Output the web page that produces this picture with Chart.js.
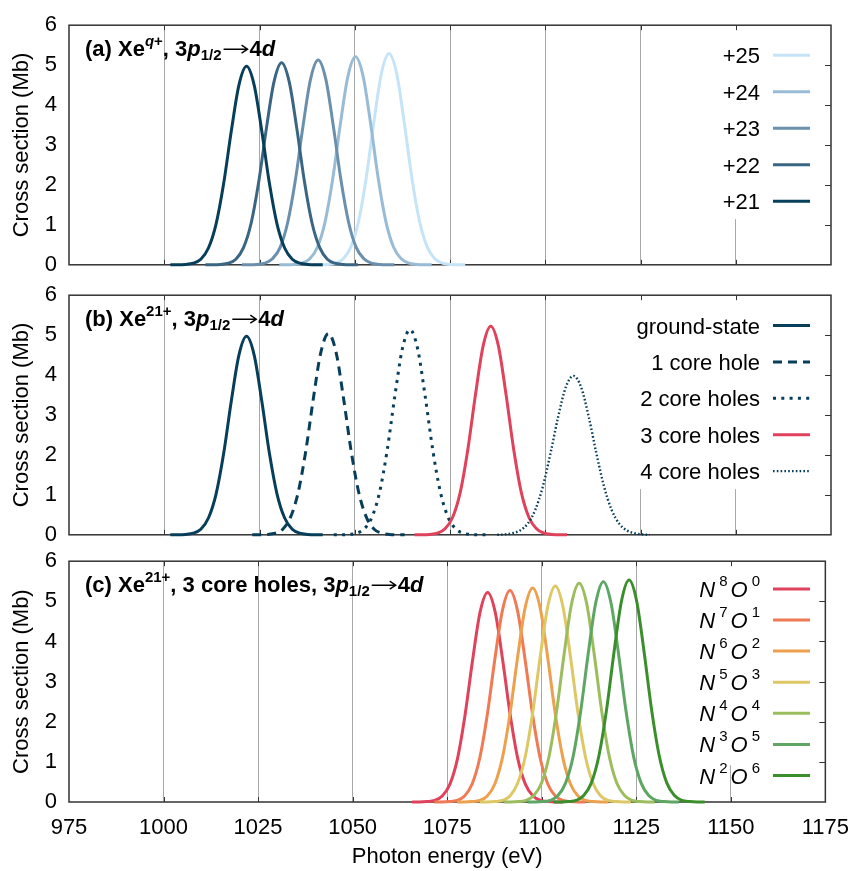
<!DOCTYPE html>
<html>
<head>
<meta charset="utf-8">
<script src="https://cdn.jsdelivr.net/npm/chart.js@4.4.1/dist/chart.umd.min.js"></script>
<style>
  html, body { margin: 0; padding: 0; background: #fff; }
  #wrap { position: relative; width: 862px; height: 871px; }
  canvas { position: absolute; left: 0; }
</style>
</head>
<body>
<div id="wrap">
  <canvas id="pa" width="862" height="290" style="top:0"></canvas>
  <canvas id="pb" width="862" height="290" style="top:270px"></canvas>
  <canvas id="pc" width="862" height="335" style="top:536px"></canvas>
</div>
<script>
// ---- DATA (Mb), every curve sampled every 2 eV from its own start energy ----
const STEP = 2;

// (a) Xe^q+ charge states, legend order top -> bottom
const chargeLabels = ['+25', '+24', '+23', '+22', '+21'];
const chargeStart = [1039.0, 1030.2, 1020.4, 1010.8, 1001.6];
const q25 = [0, 0, 0.01, 0.04, 0.15, 0.45, 1.09, 2.17, 3.56, 4.79, 5.29, 4.79, 3.56, 2.17, 1.09, 0.45, 0.15, 0.04, 0.01, 0, 0];
const q24 = [0, 0, 0.01, 0.04, 0.15, 0.44, 1.07, 2.14, 3.51, 4.72, 5.21, 4.72, 3.51, 2.14, 1.07, 0.44, 0.15, 0.04, 0.01, 0, 0];
const q23 = [0, 0, 0.01, 0.04, 0.15, 0.43, 1.06, 2.11, 3.46, 4.65, 5.13, 4.65, 3.46, 2.11, 1.06, 0.43, 0.15, 0.04, 0.01, 0, 0];
const q22 = [0, 0, 0.01, 0.04, 0.14, 0.43, 1.04, 2.08, 3.41, 4.58, 5.06, 4.58, 3.41, 2.08, 1.04, 0.43, 0.14, 0.04, 0.01, 0, 0];
const q21 = [0, 0, 0.01, 0.04, 0.14, 0.42, 1.02, 2.04, 3.35, 4.50, 4.97, 4.50, 3.35, 2.04, 1.02, 0.42, 0.14, 0.04, 0.01, 0, 0];

// (b) Xe21+ with core holes
const holeLabels = ['ground-state', '1 core hole', '2 core holes', '3 core holes', '4 core holes'];
const holeStart = [1001.6, 1023.1, 1044.5, 1065.7, 1087.4];
const hole0 = [0, 0, 0.01, 0.04, 0.14, 0.42, 1.02, 2.04, 3.35, 4.50, 4.97, 4.50, 3.35, 2.04, 1.02, 0.42, 0.14, 0.04, 0.01, 0, 0];
const hole1 = [0, 0, 0.01, 0.04, 0.14, 0.43, 1.04, 2.07, 3.39, 4.57, 5.04, 4.57, 3.39, 2.07, 1.04, 0.43, 0.14, 0.04, 0.01, 0, 0];
const hole2 = [0, 0, 0.01, 0.04, 0.15, 0.44, 1.06, 2.11, 3.46, 4.66, 5.14, 4.66, 3.46, 2.11, 1.06, 0.44, 0.15, 0.04, 0.01, 0, 0];
const hole3 = [0, 0, 0.01, 0.04, 0.15, 0.44, 1.07, 2.15, 3.52, 4.73, 5.22, 4.73, 3.52, 2.15, 1.07, 0.44, 0.15, 0.04, 0.01, 0, 0];
const hole4 = [0, 0.01, 0.04, 0.11, 0.28, 0.63, 1.22, 2.05, 2.96, 3.70, 3.98, 3.70, 2.96, 2.05, 1.22, 0.63, 0.28, 0.11, 0.04, 0.01, 0];

// (c) Xe21+, 3 core holes, N/O shell configurations
const confN = ['8', '7', '6', '5', '4', '3', '2'];
const confO = ['0', '1', '2', '3', '4', '5', '6'];
const confStart = [1065.7, 1071.6, 1077.6, 1083.6, 1089.9, 1096.3, 1103.1];
const n8o0 = [0, 0, 0.01, 0.04, 0.15, 0.44, 1.07, 2.15, 3.52, 4.73, 5.22, 4.73, 3.52, 2.15, 1.07, 0.44, 0.15, 0.04, 0.01, 0, 0];
const n7o1 = [0, 0, 0.01, 0.04, 0.15, 0.45, 1.09, 2.17, 3.55, 4.77, 5.27, 4.77, 3.55, 2.17, 1.09, 0.45, 0.15, 0.04, 0.01, 0, 0];
const n6o2 = [0, 0, 0.01, 0.04, 0.15, 0.45, 1.10, 2.19, 3.59, 4.83, 5.33, 4.83, 3.59, 2.19, 1.10, 0.45, 0.15, 0.04, 0.01, 0, 0];
const n5o3 = [0, 0, 0.01, 0.04, 0.15, 0.46, 1.11, 2.21, 3.62, 4.87, 5.38, 4.87, 3.62, 2.21, 1.11, 0.46, 0.15, 0.04, 0.01, 0, 0];
const n4o4 = [0, 0, 0.01, 0.04, 0.16, 0.46, 1.12, 2.24, 3.67, 4.94, 5.45, 4.94, 3.67, 2.24, 1.12, 0.46, 0.16, 0.04, 0.01, 0, 0];
const n3o5 = [0, 0, 0.01, 0.04, 0.16, 0.47, 1.13, 2.26, 3.70, 4.97, 5.49, 4.97, 3.70, 2.26, 1.13, 0.47, 0.16, 0.04, 0.01, 0, 0];
const n2o6 = [0, 0, 0.01, 0.04, 0.16, 0.47, 1.14, 2.27, 3.72, 5.01, 5.53, 5.01, 3.72, 2.27, 1.14, 0.47, 0.16, 0.04, 0.01, 0, 0];

const xTicks = [975, 1000, 1025, 1050, 1075, 1100, 1125, 1150, 1175];

// ---- styles ----
const FONT = '"Liberation Sans", Arial, Helvetica, sans-serif';
const FS = 22;
const NAVY = '#073e5a';
const chargeColors = ['#c5e4f8', '#98bbd6', '#6b90ad', '#3b6683', NAVY];
const holeColors = [NAVY, NAVY, NAVY, '#e0425c', NAVY];
const holeDash = [[], [9, 6], [3, 5.3], [], [1.6, 2.2]];
const holeWidth = [3, 3, 3, 3, 2.4];
const confColors = ['#e0425c', '#ef7a54', '#eda04e', '#dec866', '#9cbd5e', '#5ea663', '#3a8f2c'];

function toPoints(start, ys) {
  return ys.map((y, i) => ({ x: start + i * STEP, y: y }));
}

function fontOf(s) {
  return (s.i ? 'italic ' : '') + (s.b ? 'bold ' : '') + (s.s || FS) + 'px ' + FONT;
}

function segWidth(ctx, s) {
  if (s.arrow) return s.arrow;
  ctx.font = fontOf(s);
  return ctx.measureText(s.t).width;
}

// mixed-style text; {arrow: w} draws a thin right arrow of width w
function drawRich(ctx, segs, x, y, alignRight) {
  let w = 0;
  segs.forEach(s => { w += segWidth(ctx, s) + (s.gap || 0); });
  let cx = alignRight ? x - w : x;
  segs.forEach(s => {
    const sw = segWidth(ctx, s);
    if (s.arrow) {
      const ay = y - 6.5;
      ctx.save();
      ctx.strokeStyle = ctx.fillStyle;
      ctx.lineWidth = 1.4;
      ctx.beginPath();
      ctx.moveTo(cx + 1, ay); ctx.lineTo(cx + sw - 1, ay);
      ctx.moveTo(cx + sw - 7, ay - 4); ctx.lineTo(cx + sw - 1, ay); ctx.lineTo(cx + sw - 7, ay + 4);
      ctx.stroke();
      ctx.restore();
    } else {
      ctx.font = fontOf(s);
      ctx.fillText(s.t, cx, y + (s.dy || 0));
    }
    cx += sw + (s.gap || 0);
  });
}

// frame, ticks, opaque key, panel title and key entries
const decor = {
  id: 'decor',
  beforeDatasetsDraw(chart, args, opts) {
    const { ctx, chartArea: a } = chart;
    const xs = chart.scales.x, ys = chart.scales.y;
    ctx.save();
    ctx.fillStyle = '#fff';
    ctx.fillRect(opts.box[0], a.top, opts.box[1] - opts.box[0], opts.box[2]);
    ctx.strokeStyle = '#333';
    ctx.lineWidth = 1;
    ctx.beginPath();
    xTicks.slice(1, -1).forEach(v => {
      const px = Math.round(xs.getPixelForValue(v)) + 0.5;
      ctx.moveTo(px, a.bottom); ctx.lineTo(px, a.bottom - 5);
      ctx.moveTo(px, a.top); ctx.lineTo(px, a.top + 5);
    });
    for (let v = 1; v < 6; v++) {
      const py = Math.round(ys.getPixelForValue(v)) + 0.5;
      ctx.moveTo(a.right, py); ctx.lineTo(a.right - 6, py);
    }
    ctx.stroke();
    ctx.lineWidth = 1.5;
    ctx.strokeRect(a.left, a.top, a.right - a.left, a.bottom - a.top);
    ctx.restore();
  },
  afterDatasetsDraw(chart, args, opts) {
    const { ctx, chartArea: a } = chart;
    ctx.save();
    ctx.fillStyle = '#000';
    ctx.textBaseline = 'alphabetic';
    drawRich(ctx, opts.title, 85, a.top + 30.5, false);
    const ds = chart.data.datasets;
    opts.keys.forEach((segs, k) => {
      const y = a.top + opts.keyY0 + k * opts.keyDy;
      ctx.fillStyle = '#000';
      drawRich(ctx, segs, 760, y + 8, true);
      ctx.strokeStyle = ds[k].borderColor;
      ctx.lineWidth = ds[k].borderWidth;
      ctx.setLineDash(ds[k].borderDash || []);
      ctx.beginPath();
      ctx.moveTo(773, y); ctx.lineTo(810, y);
      ctx.stroke();
      ctx.setLineDash([]);
    });
    ctx.restore();
  }
};

function titleSegs(tag, sup, mid) {
  return [
    { t: '(' + tag + ') Xe', b: 1 },
    { t: sup, b: 1, i: sup === 'q', s: 15, dy: -10 },
    { t: '+', b: 1, s: 15, dy: -10 },
    { t: mid + '3', b: 1 },
    { t: 'p', b: 1, i: 1 },
    { t: '1/2', b: 1, s: 15, dy: 4, gap: 1 },
    { arrow: 26, gap: 1 },
    { t: '4', b: 1 },
    { t: 'd', b: 1, i: 1 }
  ];
}

function makeChart(id, datasets, cfg) {
  const showX = cfg.showX;
  return new Chart(document.getElementById(id), {
    type: 'line',
    data: { datasets: datasets },
    options: {
      responsive: false,
      animation: false,
      devicePixelRatio: 1,
      layout: { padding: { top: cfg.top, right: 31, left: 0, bottom: 0 } },
      elements: { point: { radius: 0 } },
      plugins: {
        legend: { display: false },
        tooltip: { enabled: false },
        decor: { title: cfg.title, keys: cfg.keys, keyY0: cfg.keyY0, keyDy: cfg.keyDy, box: cfg.box }
      },
      scales: {
        x: {
          type: 'linear', min: 975, max: 1175,
          afterBuildTicks: s => { s.ticks = xTicks.map(v => ({ value: v })); },
          afterFit: s => { s.height = cfg.axisH; },
          ticks: {
            display: showX, font: { family: FONT, size: FS }, color: '#000', padding: 13,
            maxRotation: 0, autoSkip: false, callback: v => String(v)
          },
          grid: {
            color: c => (c.tick && (c.tick.value === 975 || c.tick.value === 1175)) ? 'rgba(0,0,0,0)' : '#a8a8a8',
            lineWidth: 1, drawTicks: false
          },
          border: { display: false },
          title: { display: showX, text: 'Photon energy (eV)', font: { family: FONT, size: FS }, color: '#000', padding: { top: 0, bottom: 1 } }
        },
        y: {
          min: 0, max: 6,
          afterFit: s => { s.width = 69; },
          ticks: { stepSize: 1, font: { family: FONT, size: FS }, color: '#000', padding: 12 },
          grid: { display: false, drawTicks: false },
          border: { display: false },
          title: { display: true, text: 'Cross section (Mb)', font: { family: FONT, size: FS }, color: '#000', padding: { top: 9 } }
        }
      }
    },
    plugins: [decor]
  });
}

function lineSet(label, pts, color, i, dash, width) {
  return {
    label: label, data: pts, borderColor: color, borderWidth: width || 3,
    borderDash: dash || [], fill: false, cubicInterpolationMode: 'monotone',
    clip: 5, order: -i
  };
}

// panel (a)
const aSeries = [q25, q24, q23, q22, q21];
makeChart('pa',
  aSeries.map((ys, i) => lineSet(chargeLabels[i], toPoints(chargeStart[i], ys), chargeColors[i], i)),
  {
    showX: false, top: 24, axisH: 21,
    title: titleSegs('a', 'q', ', '),
    keys: chargeLabels.map(l => [{ t: l }]),
    keyY0: 30, keyDy: 36.5, box: [705, 822, 194]
  });

// panel (b)
const bSeries = [hole0, hole1, hole2, hole3, hole4];
makeChart('pb',
  bSeries.map((ys, i) => lineSet(holeLabels[i], toPoints(holeStart[i], ys), holeColors[i], i, holeDash[i], holeWidth[i])),
  {
    showX: false, top: 21, axisH: 24,
    title: titleSegs('b', '21', ', '),
    keys: holeLabels.map(l => [{ t: l }]),
    keyY0: 30.3, keyDy: 36.4, box: [625, 822, 194]
  });

// panel (c)
const cSeries = [n8o0, n7o1, n6o2, n5o3, n4o4, n3o5, n2o6];
makeChart('pc',
  cSeries.map((ys, i) => lineSet('N' + confN[i] + 'O' + confO[i], toPoints(confStart[i], ys), confColors[i], i)),
  {
    showX: true, top: 22, axisH: 69,
    title: titleSegs('c', '21', ', 3 core holes, '),
    keys: confN.map((n, i) => [
      { t: 'N', i: 1, gap: 4 },
      { t: n, s: 15, dy: -11, gap: 3 },
      { t: 'O', i: 1, gap: 4 },
      { t: confO[i], s: 15, dy: -11 }
    ]),
    keyY0: 27.7, keyDy: 31.1, box: [685, 822, 204]
  });
</script>
</body>
</html>
